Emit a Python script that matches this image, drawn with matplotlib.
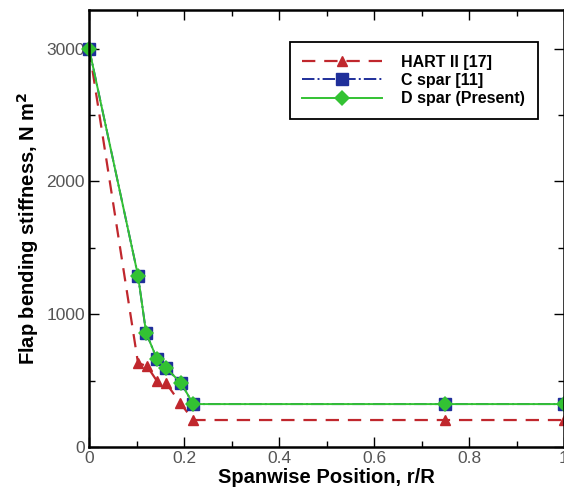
import matplotlib.pyplot as plt
from matplotlib.ticker import MultipleLocator

plt.rcParams['font.family'] = ['Liberation Sans', 'DejaVu Sans']

r_hart = [0.0, 0.103, 0.122, 0.143, 0.162, 0.192, 0.219, 0.75, 1.0]
k_hart = [3000, 632, 609, 496, 481, 331, 203, 203, 203]

r_spar = [0.0, 0.103, 0.12, 0.143, 0.162, 0.194, 0.219, 0.75, 1.0]
k_cspar = [3000, 1290, 860, 662, 594, 481, 323, 323, 323]
k_dspar = [3000, 1290, 860, 662, 594, 481, 323, 323, 323]


def main():
    fig = plt.figure(figsize=(5.64, 4.92), dpi=100)
    ax = fig.add_axes([0.158, 0.0915, 0.842, 0.888])

    ax.plot(r_hart, k_hart, color='#c0272d', ls=(0, (6, 4)), lw=1.6,
            marker='^', ms=6.5, label='HART II [17]', clip_on=False)
    ax.plot(r_spar, k_cspar, color='#1f2f9a', ls='-.', lw=1.4,
            marker='s', ms=8, mec='#1f2f9a', label='C spar [11]', clip_on=False)
    ax.plot(r_spar, k_dspar, color='#33c233', ls='-', lw=1.4,
            marker='D', ms=8, mew=0, label='D spar (Present)', clip_on=False)

    ax.set_xlim(0, 1)
    ax.set_ylim(0, 3290)
    ax.xaxis.set_major_locator(MultipleLocator(0.2))
    ax.xaxis.set_minor_locator(MultipleLocator(0.1))
    ax.yaxis.set_major_locator(MultipleLocator(1000))
    ax.yaxis.set_minor_locator(MultipleLocator(500))
    ax.set_xticks([0, 0.2, 0.4, 0.6, 0.8, 1.0], ['0', '0.2', '0.4', '0.6', '0.8', '1'])
    ax.tick_params(which='both', direction='in', top=True, right=True,
                   labelsize=12.5, labelcolor='#555555', width=1)
    ax.tick_params(which='major', length=7, pad=3)
    ax.tick_params(which='minor', length=4)
    for s in ax.spines.values():
        s.set_linewidth(1.8)

    ax.set_xlabel('Spanwise Position, r/R', fontsize=14.5, fontweight='bold', labelpad=1)
    ax.set_ylabel('Flap bending stiffness, N m$^\\mathbf{2}$', fontsize=14.5,
                  fontweight='bold', labelpad=4)

    leg = ax.legend(loc='upper right', bbox_to_anchor=(0.962, 0.945),
                    prop={'weight': 'bold', 'size': 11.5}, fancybox=False,
                    framealpha=1, edgecolor='black', handlelength=5,
                    borderpad=0.8, labelspacing=0.2, handletextpad=1.2)
    leg.get_frame().set_linewidth(1.3)

    fig.savefig('out.png')


if __name__ == "__main__":
    main()
